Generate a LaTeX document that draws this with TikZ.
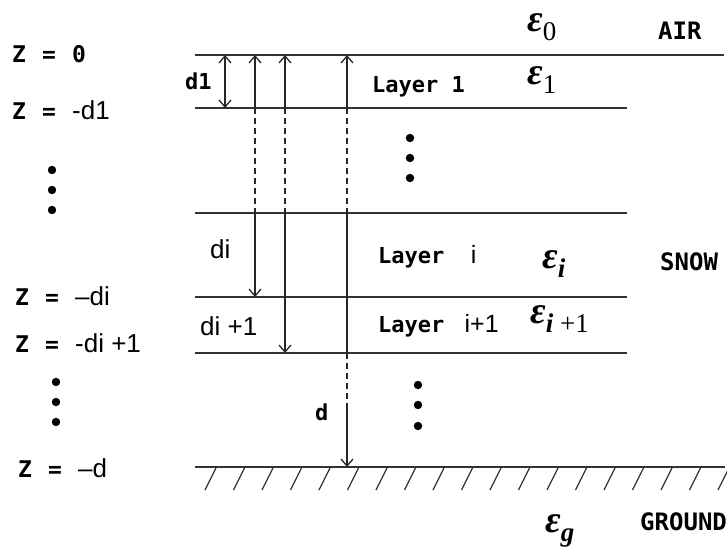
\documentclass[tikz,border=0pt]{standalone}
\usepackage{fontspec}
\setmainfont{Liberation Sans}
\newfontfamily\pixfont{DejaVu Sans Mono}
\newfontfamily\permfont{Liberation Serif}
\usetikzlibrary{arrows.meta}

\newcommand{\pixsz}{\pixfont\bfseries\fontsize{23}{23}\selectfont}
\newcommand{\zeq}{\makebox[60pt][l]{\pixsz Z\hspace{16pt}=}}
\newcommand{\permsym}[1]{{\bfseries\itshape ε}\raisebox{-9pt}{\fontsize{27}{27}\selectfont #1}}

\begin{document}
\begin{tikzpicture}[
    x=1pt, y=-1pt,
    >={Straight Barb[length=7pt, width=12pt]},
    interface/.style={line width=1.6pt, draw=black!80},
    depth/.style={line width=1.3pt, draw=black!85},
    gap/.style={depth, dash pattern=on 6pt off 4pt},
    hatch/.style={line width=1.2pt, draw=black!80},
    plaintext/.style={anchor=base west, inner sep=0pt, font=\fontsize{26}{26}\selectfont},
    pixtext/.style={anchor=base west, inner sep=0pt, font=\pixfont\bfseries\fontsize{24}{24}\selectfont},
    layertext/.style={anchor=base west, inner sep=0pt, font=\pixfont\bfseries\fontsize{22}{22}\selectfont},
    permtext/.style={anchor=base west, inner sep=0pt, font=\permfont\fontsize{38}{38}\selectfont},
    dot/.style={fill=black}
]
\useasboundingbox (0,0) rectangle (727,553);

\foreach \n/\y/\xe in {top/55/724, l1/108/627, lk/213/627, li/297/627, lj/353/627, gnd/467/725} {
    \coordinate (\n-w) at (195,\y);
    \coordinate (\n-e) at (\xe,\y);
    \draw[interface] (\n-w) -- (\n-e);
}

\foreach \x in {205,233.5,...,720}
    \draw[hatch] (\x,490) -- ++(11,-22);

\foreach \c/\x in {a/225, b/255, c/285, e/347}
    \foreach \l/\y in {0/55, 1/108, k/213, i/297, j/353, m/405, d/467}
        \coordinate (\c\l) at (\x,\y);

\draw[depth, <->] (a0) -- (a1);
\draw[depth, <-] (b0) -- (b1);
\draw[gap] (b1) -- (bk);
\draw[depth, ->] (bk) -- (bi);
\draw[depth, <-] (c0) -- (c1);
\draw[gap] (c1) -- (ck);
\draw[depth, ->] (ck) -- (cj);
\draw[depth, <-] (e0) -- (e1);
\draw[gap] (e1) -- (ek);
\draw[depth] (ek) -- (ej);
\draw[gap] (ej) -- (em);
\draw[depth, ->] (em) -- (ed);

\node[plaintext] (z0) at (12,63) {\zeq{\pixsz 0}};
\node[plaintext] (z1) at (12,120) {\zeq-d1};
\node[plaintext] (zi) at (15,305) {\zeq--di};
\node[plaintext] (zj) at (15,352) {\zeq-di +1};
\node[plaintext] (zd) at (18,477) {\zeq--d};

\node[layertext] (d1) at (185,90) {d1};
\node[plaintext] (di) at (210,258) {di};
\node[plaintext] (dj) at (200,335) {di +1};
\node[layertext] (dd) at (315,420) {d};

\node[layertext] (lay1) at (372,93) {Layer 1};
\node[layertext] (layi) at (378,263) {Layer\ \ {\normalfont\fontsize{25}{25}\selectfont i}};
\node[layertext] (layj) at (378,332) {Layer\ {\normalfont\fontsize{25}{25}\selectfont\ i+1}};

\node[permtext] (eps0) at (527,32) {\permsym{0}};
\node[permtext] (eps1) at (527,85) {\permsym{1}};
\node[permtext] (epsi) at (542,268) {\permsym{\textbf{\textit{i}}}};
\node[permtext] (epsj) at (530,323) {\permsym{\textbf{\textit{i}} +1}};
\node[permtext] (epsg) at (545,532) {\permsym{\textbf{\textit{g}}}};

\node[pixtext] (air) at (658,40) {AIR};
\node[pixtext] (snow) at (660,270) {SNOW};
\node[pixtext] (ground) at (640,530) {GROUND};

\foreach \y in {170,190,210}
    \fill[dot] (52,\y) circle (4.2);
\foreach \y in {382,402,422}
    \fill[dot] (56,\y) circle (4.2);
\foreach \y in {138,158,178}
    \fill[dot] (410,\y) circle (4.2);
\foreach \y in {385,405,426}
    \fill[dot] (418,\y) circle (4.2);

\end{tikzpicture}
\end{document}
